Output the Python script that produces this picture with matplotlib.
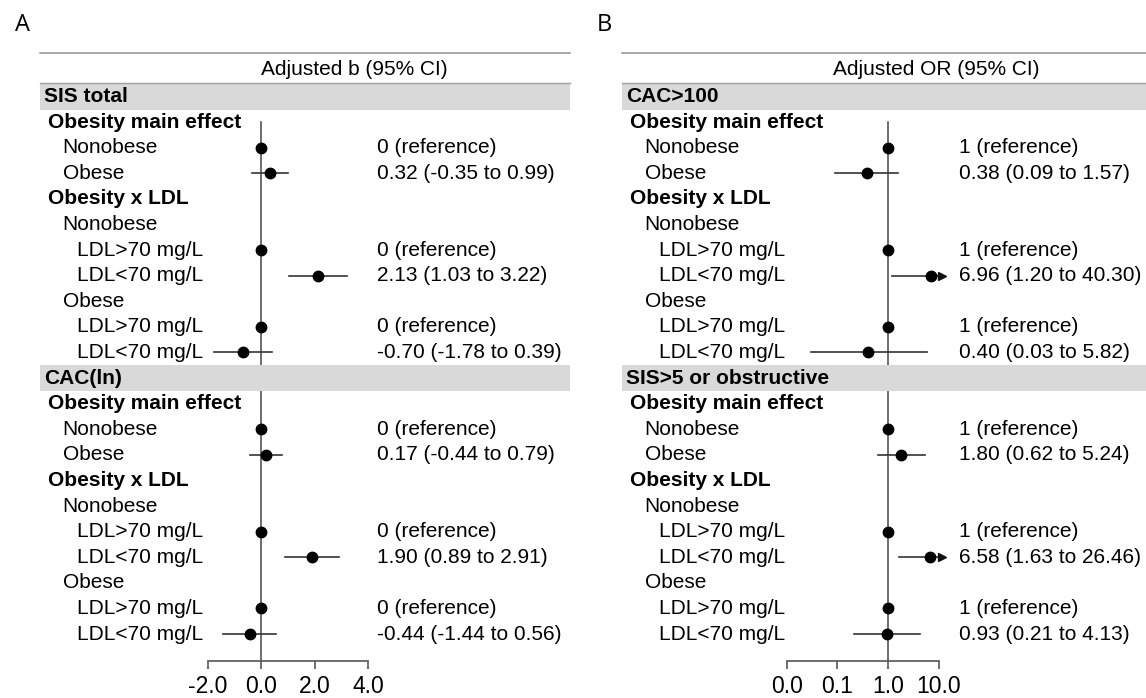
import numpy as np
import matplotlib
matplotlib.use("Agg")
import matplotlib.pyplot as plt
from matplotlib.patches import Rectangle
from matplotlib.transforms import blended_transform_factory, offset_copy

plt.rcParams['font.family'] = ['Liberation Sans', 'DejaVu Sans']

# Row structure shared by every block
block_labels = ["Obesity main effect", "Nonobese", "Obese", "Obesity x LDL", "Nonobese",
                "LDL>70 mg/L", "LDL<70 mg/L", "Obese", "LDL>70 mg/L", "LDL<70 mg/L"]
block_indent = [1, 2, 2, 1, 2, 3, 3, 2, 3, 3]
data_rows = [1, 2, 5, 6, 8, 9]   # rows (within block) that carry an estimate

# Panel A: adjusted b
a_titles = ["SIS total", "CAC(ln)"]
a_est = [[0, 0.32, 0, 2.13, 0, -0.70], [0, 0.17, 0, 1.90, 0, -0.44]]
a_lo = [[None, -0.35, None, 1.03, None, -1.78], [None, -0.44, None, 0.89, None, -1.44]]
a_hi = [[None, 0.99, None, 3.22, None, 0.39], [None, 0.79, None, 2.91, None, 0.56]]
a_ticks = [-2, 0, 2, 4]
a_ticklabels = ["-2.0", "0.0", "2.0", "4.0"]

# Panel B: adjusted OR
b_titles = ["CAC>100", "SIS>5 or obstructive"]
b_est = [[1, 0.38, 1, 6.96, 1, 0.40], [1, 1.80, 1, 6.58, 1, 0.93]]
b_lo = [[None, 0.09, None, 1.20, None, 0.03], [None, 0.62, None, 1.63, None, 0.21]]
b_hi = [[None, 1.57, None, 40.30, None, 5.82], [None, 5.24, None, 26.46, None, 4.13]]
b_ticks = [0.01, 0.1, 1, 10]
b_ticklabels = ["0.0", "0.1", "1.0", "10.0"]

W, H = 1146, 698
fig = plt.figure(figsize=(W / 100, H / 100), dpi=100)

row0, pitch = 96.4, 25.6
ytop, ybot = -1.8, 22.05
fs = 15
band_col = '#d9d9d9'
line_col = '#555555'


def ypx(r):
    return row0 + pitch * r


def panel(letter, x0, ax_left, ax_right, titles, est, lo, hi, ticks, ticklabels,
          header, ref, log=False):
    bottom = 1 - ypx(ybot) / H
    height = (ypx(ybot) - ypx(ytop)) / H
    ax = fig.add_axes([ax_left / W, bottom, (ax_right - ax_left) / W, height])
    if log:
        ax.set_xscale('log')
    ax.set_xlim(ticks[0], ticks[-1])
    ax.set_ylim(ybot, ytop)
    ax.patch.set_visible(False)
    for s in ['top', 'left', 'right']:
        ax.spines[s].set_visible(False)
    ax.spines['bottom'].set_color(line_col)
    ax.spines['bottom'].set_linewidth(1.2)
    ax.set_yticks([])
    ax.set_xticks(ticks)
    ax.set_xticklabels(ticklabels)
    ax.minorticks_off()
    ax.tick_params(axis='x', length=6, width=1.2, color=line_col, labelsize=16.5, pad=4)

    tr = blended_transform_factory(fig.transFigure, ax.transData)
    band_w = 530

    fig.text(x0 / W - 25 / W, 1 - 25 / H, letter, fontsize=17, family='Open Sans',
             va='center', ha='left')
    ax.plot([x0 / W, (x0 + band_w) / W], [-1.7, -1.7], transform=tr, color='#9a9a9a',
            lw=1.2, clip_on=False)
    ax.text((x0 + 314) / W, -1.05, header, transform=tr, fontsize=fs, ha='center', va='center')

    # reference line
    ax.plot([ref, ref], [1.0, ybot], color=line_col, lw=1.2, zorder=1)

    col_x = (x0 + 337) / W
    for b, title in enumerate(titles):
        base = b * 11
        ax.add_patch(Rectangle((x0 / W, base - 0.52), band_w / W, 1.04, transform=tr,
                               facecolor=band_col, edgecolor='none', zorder=3, clip_on=False))
        if b == 0:
            ax.plot([x0 / W, (x0 + band_w) / W], [base - 0.52, base - 0.52], transform=tr,
                    color='#a0a0a0', lw=1, zorder=4, clip_on=False)
        ax.text((x0 + 4) / W, base, title, transform=tr, fontsize=fs, fontweight='bold',
                va='center', zorder=5)
        for i, (lab, ind) in enumerate(zip(block_labels, block_indent)):
            r = base + 1 + i
            ax.text((x0 + 8 + (ind - 1) * 14.5) / W, r, lab, transform=tr, fontsize=fs,
                    fontweight='bold' if ind == 1 else 'normal', va='center')
        for k, i in enumerate(data_rows):
            r = base + 1 + i
            e, l, h = est[b][k], lo[b][k], hi[b][k]
            if l is None:
                txt = f"{e:g} (reference)"
            else:
                txt = f"{e:.2f} ({l:.2f} to {h:.2f})"
                if h > ticks[-1]:
                    ax.plot([l, ticks[-1]], [r, r], color='#333333', lw=1.2, zorder=6,
                            clip_on=False)
                    ax.plot([ticks[-1]], [r], marker='>', ms=6, color='#111111', zorder=6,
                            clip_on=False,
                            transform=offset_copy(ax.transData, fig=fig, x=3, units='dots'))
                else:
                    ax.plot([l, h], [r, r], color='#333333', lw=1.2, zorder=6)
            ax.plot([e], [r], 'o', color='black', ms=7.5, zorder=7)
            ax.text(col_x, r, txt, transform=tr, fontsize=fs, va='center')
    return ax


panel("A", 40, 208, 368, a_titles, a_est, a_lo, a_hi, a_ticks, a_ticklabels,
      "Adjusted b (95% CI)", 0)
panel("B", 622, 786.7, 939, b_titles, b_est, b_lo, b_hi, b_ticks, b_ticklabels,
      "Adjusted OR (95% CI)", 1, log=True)

fig.savefig("out.png", dpi=100)
